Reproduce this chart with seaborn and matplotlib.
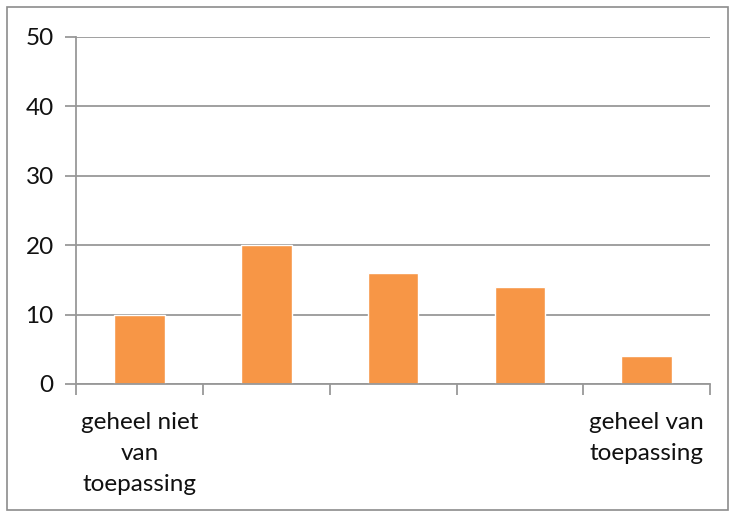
import matplotlib
matplotlib.use("Agg")
import matplotlib.pyplot as plt
import seaborn as sns
import pandas as pd

# answer categories (only the extremes are labelled)
categories = ["geheel niet\nvan\ntoepassing", " ", "  ", "   ", "geheel van\ntoepassing"]
values = [10, 20, 16, 14, 4]
yticks = [0, 10, 20, 30, 40, 50]

sns.set_theme(style="white")
plt.rcParams['font.family'] = ['Lato', 'DejaVu Sans']

df = pd.DataFrame({"cat": categories, "val": values})

fig = plt.figure(figsize=(7.3, 5.13), dpi=100)
ax = fig.add_axes([0.104, 0.2515, 0.869, 0.6765])

sns.barplot(data=df, x="cat", y="val", color="#F79646", width=0.4,
            saturation=1, ax=ax)

grid_col = "#989898"
ax.set_ylim(0, 50)
ax.set_yticks(yticks)
ax.set_xlim(-0.5, len(categories) - 0.5)
ax.set_xticks([i - 0.5 for i in range(len(categories) + 1)], minor=True)
ax.tick_params(axis="x", which="minor", bottom=True, length=8, width=1.3, color=grid_col)
ax.tick_params(axis="x", which="major", bottom=True, length=0, pad=20)
ax.tick_params(axis="y", left=True, length=8, width=1.3, color=grid_col, pad=8)
ax.set_xticks(range(len(categories)))
ax.set_xticklabels(categories, fontsize=17.5, linespacing=1.6, va="top", color="#111111")
for lab in ax.get_yticklabels():
    lab.set_fontsize(17.5)
    lab.set_color("#111111")
ax.yaxis.grid(True, color=grid_col, linewidth=1.3)
ax.set_axisbelow(True)
ax.set_xlabel("")
ax.set_ylabel("")
for side in ["top", "right"]:
    ax.spines[side].set_visible(False)
for side in ["left", "bottom"]:
    ax.spines[side].set_color(grid_col)
    ax.spines[side].set_linewidth(1.3)

# outer chart frame
fig.patches.append(plt.Rectangle((0.01, 0.006), 0.987, 0.98, transform=fig.transFigure,
                                 fill=False, edgecolor="#8c8c8c", linewidth=1.2))

fig.savefig("out.png", dpi=100)
